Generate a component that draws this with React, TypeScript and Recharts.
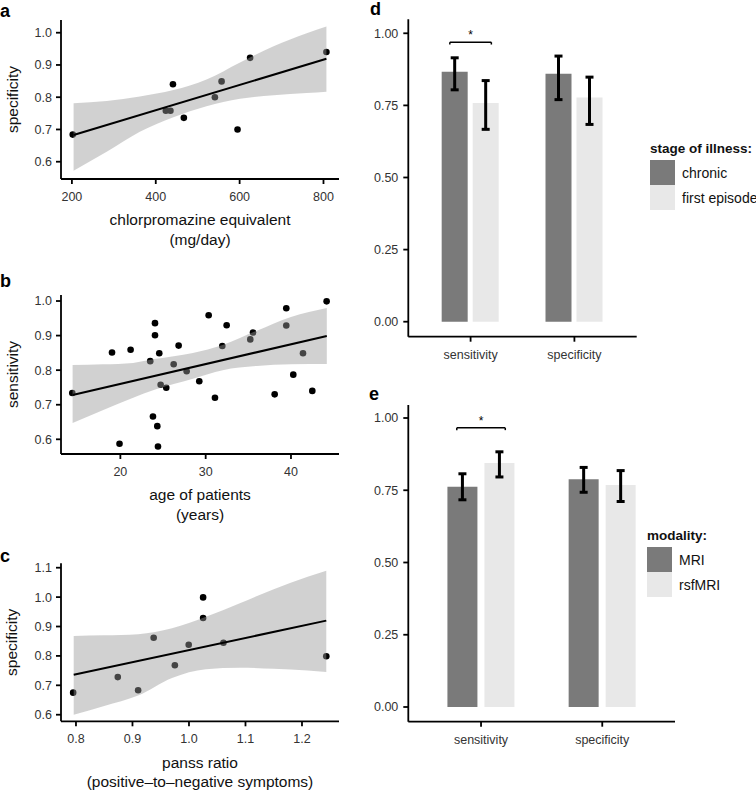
import React from "react";
import {
  ComposedChart,
  Scatter,
  Area,
  Line,
  Bar,
  ErrorBar,
  XAxis,
  YAxis,
  Legend,
  ReferenceLine,
  ReferenceDot,
} from "recharts";

const FONT = '"Liberation Sans", Arial, Helvetica, sans-serif';

// ---- panel a: chlorpromazine equivalent vs specificity
const cpzDose = [202, 424, 435, 441, 467, 541, 557, 595, 625, 807];
const cpzSpec = [0.684, 0.758, 0.758, 0.84, 0.736, 0.8, 0.849, 0.7, 0.922, 0.94];
const cpzFitX = [204, 807];
const cpzFitY = [0.683, 0.919];
const cpzBandX = [204, 283, 362, 442, 521, 601, 681, 760, 807];
const cpzBandLo = [0.572, 0.631, 0.693, 0.738, 0.772, 0.795, 0.806, 0.813, 0.817];
const cpzBandHi = [0.781, 0.788, 0.802, 0.822, 0.855, 0.908, 0.958, 0.998, 1.019];

// ---- panel b: age of patients vs sensitivity
const ageYears = [
  14.36, 19.02, 19.9, 21.2, 23.5, 23.82, 24.06, 24.06, 24.33, 24.41, 24.56, 24.72, 25.38,
  26.25, 26.83, 27.77, 29.25, 30.35, 31.09, 31.95, 32.46, 35.23, 35.55, 38.09, 39.45,
  39.45, 40.27, 41.41, 42.5, 44.18,
];
const ageSens = [
  0.734, 0.851, 0.587, 0.859, 0.826, 0.666, 0.936, 0.901, 0.638, 0.579, 0.849, 0.758, 0.749,
  0.817, 0.871, 0.797, 0.768, 0.959, 0.72, 0.87, 0.93, 0.889, 0.909, 0.73, 0.979,
  0.929, 0.787, 0.849, 0.74, 0.999,
];
const ageFitX = [14.4, 44.2];
const ageFitY = [0.728, 0.899];
const ageBandX = [14.4, 18, 21.5, 24, 28.5, 32, 36, 40, 44.2];
const ageBandLo = [0.647, 0.685, 0.72, 0.743, 0.775, 0.8, 0.812, 0.817, 0.818];
const ageBandHi = [0.815, 0.817, 0.821, 0.832, 0.85, 0.873, 0.914, 0.954, 0.98];

// ---- panel c: panss ratio vs specificity
const panssRatio = [0.795, 0.874, 0.91, 0.9375, 0.975, 0.9995, 1.025, 1.025, 1.061, 1.243];
const panssSpec = [0.675, 0.728, 0.683, 0.862, 0.768, 0.838, 0.999, 0.929, 0.845, 0.799];
const panssFitX = [0.796, 1.243];
const panssFitY = [0.736, 0.92];
const panssBandX = [0.796, 0.85, 0.91, 0.97, 1.03, 1.09, 1.15, 1.21, 1.243];
const panssBandLo = [0.6, 0.63, 0.665, 0.725, 0.755, 0.76, 0.756, 0.75, 0.745];
const panssBandHi = [0.868, 0.87, 0.874, 0.894, 0.933, 0.979, 1.027, 1.069, 1.09];

// ---- panels d/e: bar charts
const measures = ["sensitivity", "specificity"];

const chronicMean = [0.867, 0.86];
const chronicLo = [0.804, 0.77];
const chronicHi = [0.915, 0.921];
const firstEpMean = [0.758, 0.777];
const firstEpLo = [0.667, 0.684];
const firstEpHi = [0.836, 0.848];

const mriMean = [0.762, 0.788];
const mriLo = [0.717, 0.743];
const mriHi = [0.807, 0.829];
const rsfMean = [0.844, 0.768];
const rsfLo = [0.796, 0.711];
const rsfHi = [0.883, 0.818];

const barTicks = [0, 0.25, 0.5, 0.75, 1];
// significance bracket over "sensitivity" (group position units, 1 = first category)
const bracketSpan = [0.8, 1.2];
const bracketD = 0.969;
const bracketE = 0.966;

const DARK = "#7a7a7a";
const LIGHT = "#e8e8e8";

const zipPts = (xs: number[], ys: number[]) => xs.map((x, i) => ({ x, y: ys[i] }));
const bandRows = (xs: number[], lo: number[], hi: number[]) =>
  xs.map((x, i) => ({ x, band: [lo[i], hi[i]] }));

const tickStyle = { fill: "#333", fontSize: 12.5, fontFamily: FONT };
const axisStroke = { stroke: "#000", strokeWidth: 1.8 };

function XTitle(props: any) {
  const vb = props.viewBox;
  const cx = vb.x + vb.width / 2;
  return (
    <text textAnchor="middle" fontFamily={FONT} fontSize={15.5} fill="#111">
      {props.lines.map((l: string, i: number) => (
        <tspan key={i} x={cx} y={vb.y + 46.2 + i * 19.5}>
          {l}
        </tspan>
      ))}
    </text>
  );
}

function YTitle(props: any) {
  const vb = props.viewBox;
  const cx = 12;
  const cy = vb.y + vb.height / 2;
  return (
    <text
      x={cx}
      y={cy}
      transform={`rotate(-90, ${cx}, ${cy})`}
      textAnchor="middle"
      dominantBaseline="central"
      fontFamily={FONT}
      fontSize={15.5}
      fill="#111"
    >
      {props.value}
    </text>
  );
}

function ScatterPanel(p: any) {
  const marginTop = p.plotTop - p.top;
  const marginBottom = p.height - (p.plotBottom - p.top) - 70;
  return (
    <div style={{ position: "absolute", left: 0, top: p.top }}>
      <ComposedChart
        width={345}
        height={p.height}
        margin={{ top: marginTop, right: 6, bottom: marginBottom, left: 0 }}
      >
        <XAxis
          dataKey="x"
          type="number"
          domain={p.xDomain}
          ticks={p.xTicks}
          allowDataOverflow
          height={70}
          tickSize={5}
          tickMargin={8}
          tick={tickStyle}
          axisLine={axisStroke}
          tickLine={axisStroke}
          tickFormatter={(v: number) => v.toFixed(p.xDigits)}
          label={<XTitle lines={p.xTitle} />}
        />
        <YAxis
          type="number"
          domain={p.yDomain}
          ticks={p.yTicks}
          allowDataOverflow
          width={61}
          tickSize={5}
          tickMargin={4}
          tick={tickStyle}
          axisLine={axisStroke}
          tickLine={axisStroke}
          tickFormatter={(v: number) => v.toFixed(1)}
          label={<YTitle value={p.yTitle} />}
        />
        <Scatter
          data={p.points}
          dataKey="y"
          zIndex={50}
          isAnimationActive={false}
          shape={(s: any) => <circle cx={s.cx} cy={s.cy} r={3.3} fill="#000" />}
        />
        <Area
          data={p.band}
          dataKey="band"
          type="monotone"
          fill="#999999"
          fillOpacity={0.45}
          stroke="none"
          zIndex={100}
          isAnimationActive={false}
        />
        <Line
          data={p.fit}
          dataKey="y"
          type="linear"
          stroke="#000"
          strokeWidth={2}
          dot={false}
          zIndex={400}
          isAnimationActive={false}
        />
      </ComposedChart>
    </div>
  );
}

function legendContent(title: string) {
  return (props: any) => (
    <div style={{ fontFamily: FONT, color: "#111", whiteSpace: "nowrap" }}>
      <div style={{ fontWeight: "bold", fontSize: 13.5, lineHeight: "16px", marginBottom: 3 }}>
        {title}
      </div>
      {(props.payload || []).map((e: any, i: number) => (
        <div key={i} style={{ display: "flex", alignItems: "center", height: 25 }}>
          <div style={{ width: 25, height: 25, background: e.color }} />
          <span style={{ marginLeft: 7, fontSize: 14 }}>{e.value}</span>
        </div>
      ))}
    </div>
  );
}

function BarPanel(p: any) {
  const rows = measures.map((m, i) => ({
    pos: i + 1,
    measure: m,
    a: p.aMean[i],
    b: p.bMean[i],
    aErr: [p.aMean[i] - p.aLo[i], p.aHi[i] - p.aMean[i]],
    bErr: [p.bMean[i] - p.bLo[i], p.bHi[i] - p.bMean[i]],
  }));
  const plotLeft = 408.3;
  const marginTop = p.plotTop - p.top;
  const marginBottom = p.height - (p.plotBottom - p.top) - 40;
  const [bx0, bx1] = bracketSpan;
  const hook = 0.008;
  return (
    <div style={{ position: "absolute", left: 360, top: p.top }}>
      <ComposedChart
        width={396}
        height={p.height}
        data={rows}
        barGap={p.barGap}
        margin={{ top: marginTop, right: 756 - p.plotRight, bottom: marginBottom, left: 0 }}
      >
        <XAxis
          dataKey="pos"
          type="number"
          domain={[0.4, 2.6]}
          ticks={[1, 2]}
          allowDataOverflow
          height={40}
          tickSize={5}
          tickMargin={8}
          tick={tickStyle}
          axisLine={axisStroke}
          tickLine={axisStroke}
          tickFormatter={(v: number) => measures[v - 1]}
        />
        <YAxis
          type="number"
          domain={p.yDomain}
          ticks={barTicks}
          allowDataOverflow
          width={plotLeft - 360}
          tickSize={5}
          tickMargin={5}
          tick={tickStyle}
          axisLine={axisStroke}
          tickLine={axisStroke}
          tickFormatter={(v: number) => v.toFixed(2)}
        />
        <Bar dataKey="a" name={p.aName} fill={p.aColor} barSize={p.barSize} isAnimationActive={false}>
          <ErrorBar dataKey="aErr" direction="y" width={4} stroke="#000" strokeWidth={3} />
        </Bar>
        <Bar dataKey="b" name={p.bName} fill={p.bColor} barSize={p.barSize} isAnimationActive={false}>
          <ErrorBar dataKey="bErr" direction="y" width={4} stroke="#000" strokeWidth={3} />
        </Bar>
        <ReferenceLine
          segment={[{ x: bx0, y: p.bracket }, { x: bx1, y: p.bracket }]}
          stroke="#000"
          strokeWidth={1.5}
          ifOverflow="visible"
        />
        <ReferenceLine
          segment={[{ x: bx0, y: p.bracket }, { x: bx0, y: p.bracket - hook }]}
          stroke="#000"
          strokeWidth={1.5}
          ifOverflow="visible"
        />
        <ReferenceLine
          segment={[{ x: bx1, y: p.bracket }, { x: bx1, y: p.bracket - hook }]}
          stroke="#000"
          strokeWidth={1.5}
          ifOverflow="visible"
        />
        <ReferenceDot
          x={(bx0 + bx1) / 2}
          y={p.bracket + 0.025}
          r={1}
          fill="none"
          stroke="none"
          ifOverflow="visible"
          label={{ value: "*", position: "center", fontSize: 12, fill: "#000", fontFamily: FONT }}
        />
        <Legend
          layout="vertical"
          align="center"
          verticalAlign="middle"
          wrapperStyle={{ left: p.legendLeft, top: p.legendTop, width: "auto" }}
          content={legendContent(p.legendTitle)}
        />
      </ComposedChart>
    </div>
  );
}

const letters = [
  { t: "a", x: 0, y: 17 },
  { t: "b", x: 0, y: 287 },
  { t: "c", x: 0, y: 562 },
  { t: "d", x: 370, y: 15 },
  { t: "e", x: 369, y: 400 },
];

export default function App() {
  return (
    <div
      style={{
        position: "absolute",
        left: 0,
        top: 0,
        width: 756,
        height: 792,
        overflow: "hidden",
        background: "#fff",
        fontFamily: FONT,
      }}
    >
      <ScatterPanel
        top={0}
        height={255}
        plotTop={20}
        plotBottom={179}
        xDomain={[174, 837]}
        yDomain={[0.5464, 1.0394]}
        xTicks={[200, 400, 600, 800]}
        yTicks={[0.6, 0.7, 0.8, 0.9, 1.0]}
        xDigits={0}
        xTitle={["chlorpromazine equivalent", "(mg/day)"]}
        yTitle="specificity"
        points={zipPts(cpzDose, cpzSpec)}
        fit={zipPts(cpzFitX, cpzFitY)}
        band={bandRows(cpzBandX, cpzBandLo, cpzBandHi)}
      />
      <ScatterPanel
        top={265}
        height={265}
        plotTop={295}
        plotBottom={454}
        xDomain={[13.04, 45.63]}
        yDomain={[0.5575, 1.0174]}
        xTicks={[20, 30, 40]}
        yTicks={[0.6, 0.7, 0.8, 0.9, 1.0]}
        xDigits={0}
        xTitle={["age of patients", "(years)"]}
        yTitle="sensitivity"
        points={zipPts(ageYears, ageSens)}
        fit={zipPts(ageFitX, ageFitY)}
        band={bandRows(ageBandX, ageBandLo, ageBandHi)}
      />
      <ScatterPanel
        top={540}
        height={252}
        plotTop={563.3}
        plotBottom={721.3}
        xDomain={[0.7735, 1.2655]}
        yDomain={[0.5776, 1.115]}
        xTicks={[0.8, 0.9, 1.0, 1.1, 1.2]}
        yTicks={[0.6, 0.7, 0.8, 0.9, 1.0, 1.1]}
        xDigits={1}
        xTitle={["panss ratio", "(positive\u2013to\u2013negative symptoms)"]}
        yTitle="specificity"
        points={zipPts(panssRatio, panssSpec)}
        fit={zipPts(panssFitX, panssFitY)}
        band={bandRows(panssBandX, panssBandLo, panssBandHi)}
      />
      <BarPanel
        top={0}
        height={380}
        plotTop={19.3}
        plotBottom={336.7}
        plotRight={636.7}
        yDomain={[-0.052, 1.0485]}
        aName="chronic"
        bName="first episode"
        aMean={chronicMean}
        aLo={chronicLo}
        aHi={chronicHi}
        bMean={firstEpMean}
        bLo={firstEpLo}
        bHi={firstEpHi}
        aColor={DARK}
        bColor={LIGHT}
        barSize={26}
        barGap={5}
        bracket={bracketD}
        legendTitle="stage of illness:"
        legendLeft={290}
        legendTop={141}
      />
      <BarPanel
        top={385}
        height={407}
        plotTop={405}
        plotBottom={721.7}
        plotRight={675}
        yDomain={[-0.0509, 1.045]}
        aName="MRI"
        bName="rsfMRI"
        aMean={mriMean}
        aLo={mriLo}
        aHi={mriHi}
        bMean={rsfMean}
        bLo={rsfLo}
        bHi={rsfHi}
        aColor={DARK}
        bColor={LIGHT}
        barSize={30}
        barGap={7}
        bracket={bracketE}
        legendTitle="modality:"
        legendLeft={287}
        legendTop={143}
      />
      <svg
        width={756}
        height={792}
        style={{ position: "absolute", left: 0, top: 0, pointerEvents: "none" }}
      >
        {letters.map((l) => (
          <text key={l.t} x={l.x} y={l.y} fontFamily={FONT} fontWeight="bold" fontSize={18} fill="#000">
            {l.t}
          </text>
        ))}
      </svg>
    </div>
  );
}
